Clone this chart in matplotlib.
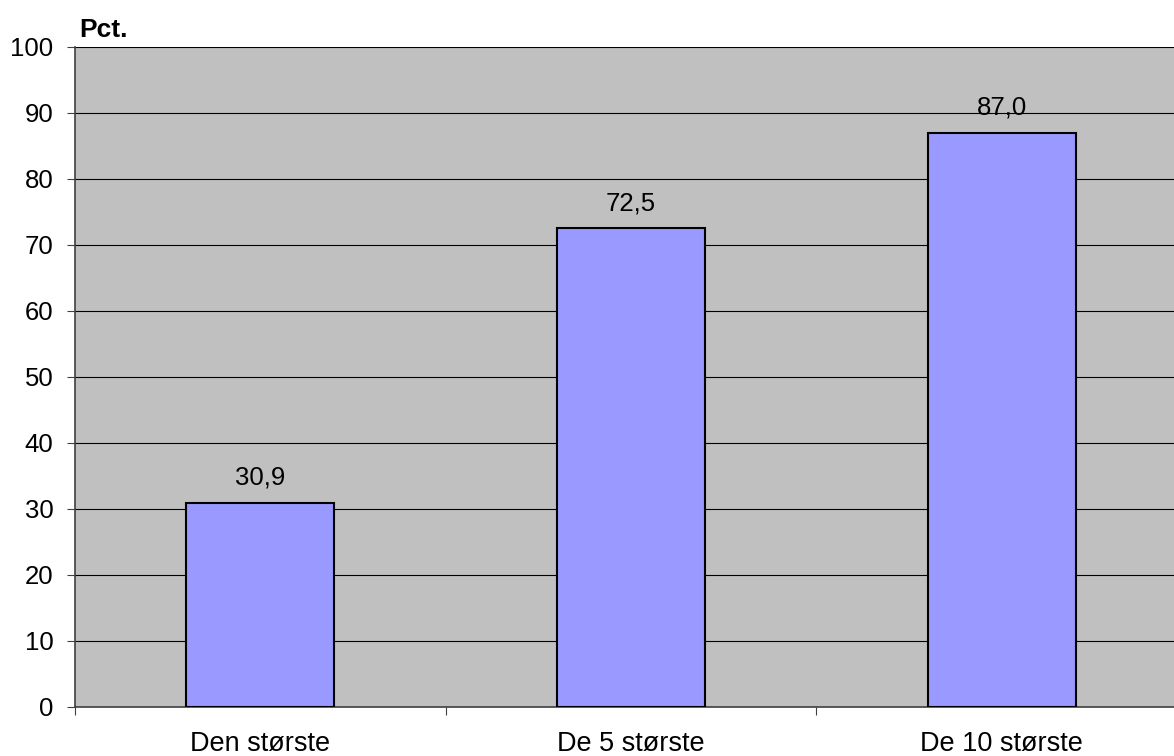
import matplotlib
matplotlib.use("Agg")
import matplotlib.pyplot as plt

categories = ["Den største", "De 5 største", "De 10 største"]
values = [30.9, 72.5, 87.0]
yticks = [0, 10, 20, 30, 40, 50, 60, 70, 80, 90, 100]

plt.rcParams['font.family'] = ['Liberation Sans', 'DejaVu Sans']
FS = 18.5

W, H = 1174, 756
fig = plt.figure(figsize=(W/100, H/100), dpi=100)
left, right, top, bottom = 75, 1187, 47, 707
ax = fig.add_axes([left/W, (H-bottom)/H, (right-left)/W, (bottom-top)/H])
ax.set_facecolor('#C0C0C0')

x = range(len(categories))
ax.bar(x, values, width=0.4, color='#9999FF', edgecolor='black', linewidth=1.5, zorder=3)
for xi, v in zip(x, values):
    ax.text(xi, v + 2.0, f"{v:.1f}".replace('.', ','), ha='center', va='bottom', fontsize=FS, zorder=4)

ax.set_xlim(-0.5, len(categories) - 0.5)
ax.set_ylim(0, 100)
ax.set_yticks(yticks)
ax.set_yticklabels([str(t) for t in yticks], fontsize=FS)
ax.yaxis.grid(True, color='black', linewidth=0.8, zorder=1)
ax.set_axisbelow(True)

ax.set_xticks([i - 0.5 for i in range(len(categories) + 1)])
ax.set_xticklabels([])
ax.set_xticks(list(x), minor=True)
ax.set_xticklabels(categories, minor=True, fontsize=19.5)
ax.tick_params(axis='x', which='minor', length=0, pad=17)
ax.tick_params(axis='x', which='major', length=6, width=0.8, color='#404040')
ax.tick_params(axis='y', length=6, width=0.8, color='#404040', pad=9.5)

for s in ['top', 'right']:
    ax.spines[s].set_visible(False)
for s in ['left', 'bottom']:
    ax.spines[s].set_color('#404040')
    ax.spines[s].set_linewidth(1.2)

fig.text(79/W, 1 - 30/H, "Pct.", fontsize=FS + 0.5, fontweight='bold', ha='left', va='center')

fig.savefig("out.png", dpi=100)
